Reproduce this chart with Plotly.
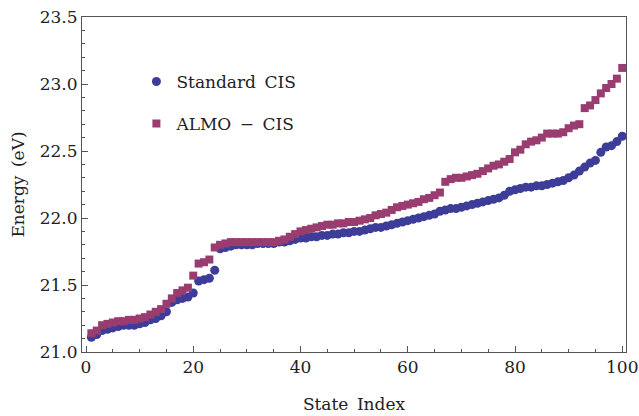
import plotly.graph_objects as go

state_index = list(range(1, 101))

standard_cis = [
    21.11, 21.13, 21.16, 21.17, 21.18, 21.19, 21.20, 21.20, 21.20, 21.21,
    21.22, 21.24, 21.25, 21.27, 21.30, 21.37, 21.39, 21.40, 21.41, 21.44,
    21.53, 21.54, 21.55, 21.61, 21.77, 21.78, 21.79, 21.80, 21.80, 21.80,
    21.80, 21.81, 21.81, 21.81, 21.81, 21.82, 21.82, 21.83, 21.84, 21.85,
    21.85, 21.86, 21.86, 21.87, 21.87, 21.88, 21.88, 21.89, 21.89, 21.90,
    21.90, 21.91, 21.92, 21.93, 21.93, 21.94, 21.95, 21.96, 21.97, 21.98,
    21.99, 22.00, 22.01, 22.02, 22.03, 22.05, 22.06, 22.07, 22.07, 22.08,
    22.09, 22.10, 22.11, 22.12, 22.13, 22.14, 22.15, 22.17, 22.20, 22.21,
    22.22, 22.23, 22.23, 22.24, 22.24, 22.25, 22.26, 22.27, 22.28, 22.30,
    22.32, 22.35, 22.38, 22.41, 22.43, 22.49, 22.53, 22.54, 22.57, 22.61,
]

almo_cis = [
    21.14, 21.16, 21.20, 21.21, 21.22, 21.23, 21.23, 21.24, 21.24, 21.25,
    21.26, 21.28, 21.30, 21.32, 21.36, 21.40, 21.44, 21.46, 21.48, 21.57,
    21.66, 21.67, 21.69, 21.78, 21.80, 21.81, 21.82, 21.82, 21.82, 21.82,
    21.82, 21.82, 21.82, 21.82, 21.82, 21.83, 21.84, 21.86, 21.88, 21.90,
    21.91, 21.92, 21.93, 21.94, 21.95, 21.95, 21.96, 21.96, 21.97, 21.97,
    21.98, 21.99, 22.00, 22.02, 22.03, 22.04, 22.06, 22.08, 22.09, 22.10,
    22.11, 22.12, 22.14, 22.15, 22.17, 22.19, 22.27, 22.29, 22.30, 22.30,
    22.31, 22.32, 22.33, 22.35, 22.37, 22.39, 22.40, 22.42, 22.44, 22.49,
    22.51, 22.55, 22.57, 22.58, 22.60, 22.63, 22.63, 22.63, 22.64, 22.67,
    22.69, 22.70, 22.82, 22.84, 22.88, 22.93, 22.97, 23.00, 23.04, 23.12,
]

x_ticks = [0, 20, 40, 60, 80, 100]
y_ticks = [21.0, 21.5, 22.0, 22.5, 23.0, 23.5]

blue = "rgb(61,61,153)"
plum = "rgb(153,61,113)"
serif = "DejaVu Serif"

fig = go.Figure()
fig.add_trace(go.Scatter(
    x=state_index, y=standard_cis, mode="markers",
    name="Standard\u2002CIS", legendgroup="a",
    marker=dict(symbol="circle", size=9, color=blue),
))
fig.add_trace(go.Scatter(
    x=state_index, y=almo_cis, mode="markers",
    name="ALMO\u2002\u2212\u2002CIS", legendgroup="b",
    marker=dict(symbol="square", size=8, color=plum),
))

axis_common = dict(
    showgrid=False, zeroline=False, showline=True, mirror=True,
    linecolor="#555555", linewidth=1, automargin=False,
    ticks="inside", tickcolor="#555555", ticklen=6, tickwidth=1,
    tickfont=dict(family=serif, size=17, color="#222222"),
)

fig.update_xaxes(
    range=[-0.75, 100.7], tickvals=x_ticks,
    ticktext=[str(v) for v in x_ticks],
    minor=dict(dtick=5, tick0=0, ticks="inside", ticklen=3, tickcolor="#555555"),
    title=dict(text="State\u2002Index", font=dict(family=serif, size=17, color="#222222"),
               standoff=21),
    **axis_common,
)
fig.update_yaxes(
    range=[21.0, 23.5], tickvals=y_ticks,
    ticktext=[f"{v:.1f}" for v in y_ticks],
    minor=dict(dtick=0.1, tick0=21.0, ticks="inside", ticklen=3, tickcolor="#555555"),
    title=dict(text="Energy\u2002(eV)", font=dict(family=serif, size=17, color="#222222"),
               standoff=10),
    **axis_common,
)

fig.update_layout(
    width=639, height=416,
    margin=dict(l=82, r=13, t=17, b=64),
    paper_bgcolor="white", plot_bgcolor="white",
    font=dict(family=serif),
    showlegend=True,
    legend=dict(
        x=0.10, y=0.86, xanchor="left", yanchor="top",
        bgcolor="rgba(0,0,0,0)", traceorder="grouped", tracegroupgap=17,
        font=dict(family=serif, size=17, color="#222222"),
    ),
)

fig.write_html("out.html")
